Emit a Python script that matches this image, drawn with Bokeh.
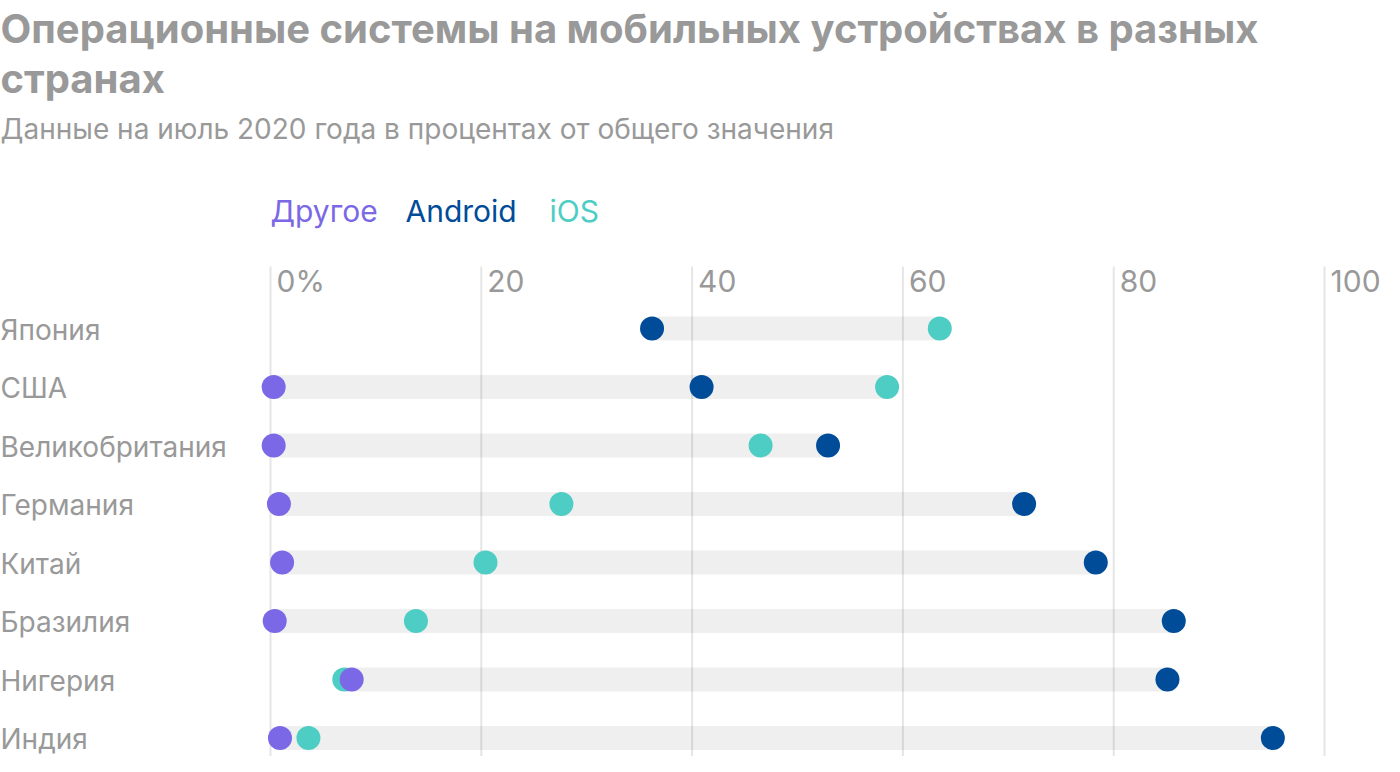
import numpy as np
from bokeh.plotting import figure
from bokeh.models import Range1d
from bokeh.core.properties import value
from bokeh.embed import file_html
from bokeh.resources import INLINE

# ---------------- data ----------------
countries = ["Япония", "США", "Великобритания", "Германия", "Китай", "Бразилия", "Нигерия", "Индия"]
other = [np.nan, 0.3, 0.3, 0.8, 1.1, 0.4, 7.7, 0.9]
android = [36.2, 40.9, 52.9, 71.5, 78.3, 85.7, 85.1, 95.1]
ios = [63.5, 58.5, 46.5, 27.6, 20.4, 13.8, 7.0, 3.6]
tick_values = [0, 20, 40, 60, 80, 100]
tick_labels = ["0%", "20", "40", "60", "80", "100"]
series_names = ["Другое", "Android", "iOS"]

TITLE_1 = "Операционные системы на мобильных устройствах в разных"
TITLE_2 = "странах"
SUBTITLE = "Данные на июль 2020 года в процентах от общего значения"

# ---------------- styles ----------------
C_OTHER = "#7b68e6"
C_ANDROID = "#004c99"
C_IOS = "#4ecdc4"
C_BAR = "#efefef"
C_TEXT = "#999999"
FONT = "Inter"

W, H = 1384, 756
X0_PX = 270.0      # pixel position of 0 %
PXU = 10.54        # pixels per percentage point
ROW0_PX = 328.0    # pixel position of first row
ROWH = 58.5        # pixels between rows
TS = 9.0           # text baseline correction (px)


def dx(px):
    return (px - X0_PX) / PXU


def dy(py):
    return (py - ROW0_PX) / ROWH


p = figure(width=W, height=H, output_backend="svg", toolbar_location=None,
           x_range=Range1d(dx(0), dx(W)), y_range=Range1d(dy(H), dy(0)),
           min_border=0, min_border_left=0, min_border_right=0,
           min_border_top=0, min_border_bottom=0)
p.axis.visible = False
p.grid.visible = False
p.outline_line_color = None
p.background_fill_color = "white"
p.border_fill_color = "white"

rows = list(range(len(countries)))
oth = np.array(other, dtype=float)
andr = np.array(android, dtype=float)
io = np.array(ios, dtype=float)
stack = np.vstack([oth, andr, io])
lo = np.nanmin(stack, axis=0)
hi = np.nanmax(stack, axis=0)

# bars
p.hbar(y=rows, left=lo, right=hi, height=24 / ROWH, fill_color=C_BAR, line_color=None)

# grid lines (drawn over bars, translucent)
p.segment(x0=tick_values, x1=tick_values, y0=[dy(266)] * len(tick_values),
          y1=[dy(H)] * len(tick_values), line_color="black", line_alpha=0.1, line_width=2)

# tick labels
p.text(x=tick_values, y=[dy(289 - TS)] * len(tick_values), text=tick_labels,
       x_offset=6, text_align="left", text_baseline="alphabetic",
       text_font=value(FONT), text_font_size="30px", text_color=C_TEXT)

# dots
p.scatter(x=io, y=rows, size=24, fill_color=C_IOS, line_color=None)
p.scatter(x=andr, y=rows, size=24, fill_color=C_ANDROID, line_color=None)
p.scatter(x=oth, y=rows, size=24, fill_color=C_OTHER, line_color=None)

# country labels
p.text(x=[dx(0)] * len(countries), y=[r + (10 - TS) / ROWH for r in rows], text=countries,
       text_align="left", text_baseline="alphabetic",
       text_font=value(FONT), text_font_size="28px", text_color=C_TEXT)

# title / subtitle
p.text(x=[dx(0)], y=[dy(37 - TS)], text=[TITLE_1], text_align="left", text_baseline="alphabetic",
       text_font=value(FONT), text_font_style="bold", text_font_size="40px", text_color=C_TEXT)
p.text(x=[dx(0)], y=[dy(87 - TS)], text=[TITLE_2], text_align="left", text_baseline="alphabetic",
       text_font=value(FONT), text_font_style="bold", text_font_size="40px", text_color=C_TEXT)
p.text(x=[dx(0)], y=[dy(137 - TS)], text=[SUBTITLE], text_align="left", text_baseline="alphabetic",
       text_font=value(FONT), text_font_size="28px", text_color=C_TEXT)

# legend
p.text(x=[dx(270), dx(405), dx(549)], y=[dy(219 - TS)] * 3, text=series_names,
       text_align="left", text_baseline="alphabetic",
       text_font=value(FONT), text_font_size="30px",
       text_color=[C_OTHER, C_ANDROID, C_IOS])

open("out.html", "w").write(file_html(p, INLINE))
